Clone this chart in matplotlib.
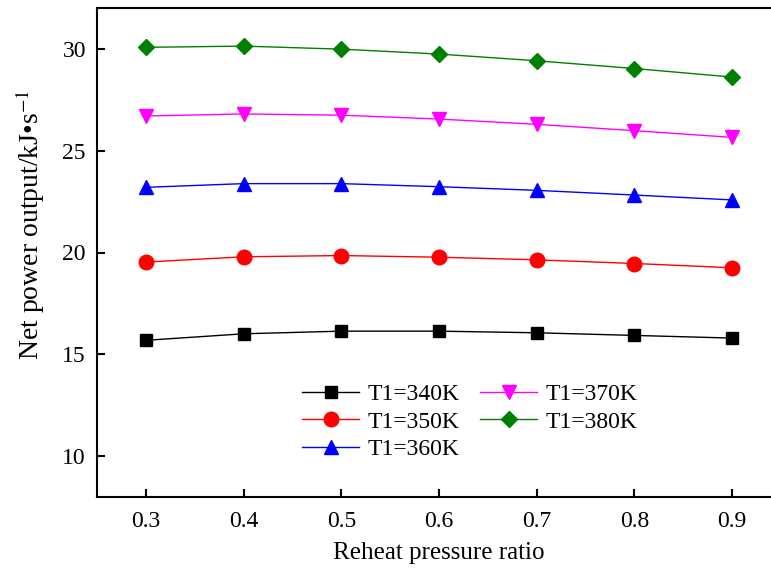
import numpy as np
import matplotlib
matplotlib.use("Agg")
import matplotlib.pyplot as plt

plt.rcParams['font.family'] = ['Liberation Serif', 'DejaVu Serif']
plt.rcParams['mathtext.fontset'] = 'stix'

# Reheat pressure ratio
ratio = [0.3, 0.4, 0.5, 0.6, 0.7, 0.8, 0.9]

# Net power output (kJ/s) for each inlet temperature
p_340 = [15.69, 16.01, 16.14, 16.14, 16.06, 15.93, 15.80]
p_350 = [19.53, 19.79, 19.85, 19.77, 19.64, 19.46, 19.25]
p_360 = [23.20, 23.38, 23.38, 23.23, 23.05, 22.82, 22.58]
p_370 = [26.70, 26.80, 26.74, 26.55, 26.29, 25.98, 25.65]
p_380 = [30.07, 30.13, 29.98, 29.74, 29.41, 29.03, 28.61]

labels = ["T1=340K", "T1=350K", "T1=360K", "T1=370K", "T1=380K"]

fig = plt.figure(figsize=(7.71, 5.68), dpi=100)
ax = fig.add_axes([97/771, 71/568, 684/771, 489/568])

ax.plot(ratio, p_340, color="black", marker="s", markersize=9, lw=1, label=labels[0])
ax.plot(ratio, p_350, color="red", marker="o", markersize=10.5, lw=1, label=labels[1])
ax.plot(ratio, p_360, color="blue", marker="^", markersize=10.5, lw=1, label=labels[2])
ax.plot(ratio, p_370, color="magenta", marker="v", markersize=10.5, lw=1, label=labels[3])
ax.plot(ratio, p_380, color="green", marker="D", markersize=8.5, lw=1, label=labels[4])

ax.set_xlim(0.25, 0.95)
ax.set_ylim(8, 32)
ax.set_xticks(ratio)
ax.set_xticklabels(["0.3", "0.4", "0.5", "0.6", "0.7", "0.8", "0.9"])
ax.set_yticks([10, 15, 20, 25, 30])

ax.tick_params(direction="in", length=6, width=1.5, labelsize=17)
ax.tick_params(axis="x", pad=10)
ax.tick_params(axis="y", pad=8)
for s in ax.spines.values():
    s.set_linewidth(1.5)

ax.set_xlabel("Reheat pressure ratio", fontsize=18, labelpad=7)
ax.set_ylabel(r"Net power output/kJ•s$^{-1}$", fontsize=20)
ax.yaxis.set_label_coords(-0.073, 0.556)

ax.legend(ncol=2, frameon=False, fontsize=17, loc="upper left",
          bbox_to_anchor=(0.30, 0.232), borderaxespad=0, borderpad=0,
          handlelength=2.4, handletextpad=0.35, labelspacing=0.26,
          columnspacing=0.9)

plt.savefig("out.png", dpi=100)
